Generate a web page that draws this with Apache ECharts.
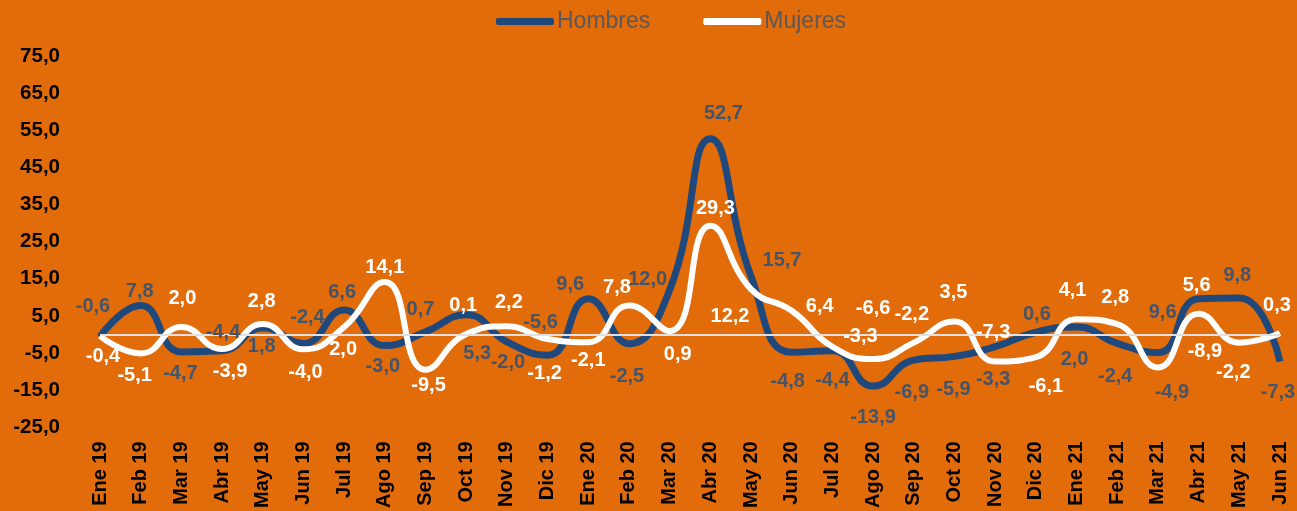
<!DOCTYPE html>
<html>
<head>
<meta charset="utf-8">
<script src="https://cdn.jsdelivr.net/npm/echarts@6/dist/echarts.min.js"></script>
<style>
    html, body { margin: 0; padding: 0; background: #E36C0A; }
    #main { width: 1297px; height: 511px; }
</style>
</head>
<body>
<div id="main"></div>
<script>
var meses = ['Ene 19', 'Feb 19', 'Mar 19', 'Abr 19', 'May 19', 'Jun 19', 'Jul 19', 'Ago 19', 'Sep 19', 'Oct 19',
    'Nov 19', 'Dic 19', 'Ene 20', 'Feb 20', 'Mar 20', 'Abr 20', 'May 20', 'Jun 20', 'Jul 20', 'Ago 20',
    'Sep 20', 'Oct 20', 'Nov 20', 'Dic 20', 'Ene 21', 'Feb 21', 'Mar 21', 'Abr 21', 'May 21', 'Jun 21'];

var hombres = [-0.6, 7.8, -4.7, -4.4, 1.8, -2.4, 6.6, -3.0, 0.7, 5.3,
    -2.0, -5.6, 9.6, -2.5, 12.0, 52.7, 15.7, -4.8, -4.4, -13.9,
    -6.9, -5.9, -3.3, 0.6, 2.0, -2.4, -4.9, 9.6, 9.8, -7.3];

var mujeres = [-0.4, -5.1, 2.0, -3.9, 2.8, -4.0, 2.0, 14.1, -9.5, 0.1,
    2.2, -1.2, -2.1, 7.8, 0.9, 29.3, 12.2, 6.4, -3.3, -6.6,
    -2.2, 3.5, -7.3, -6.1, 4.1, 2.8, -8.9, 5.6, -2.2, 0.3];

var yTicks = { min: -25, max: 75, step: 10 };

// label nudges (px from the point), the labels were hand placed in the original
var hombresLbl = [[-7, -30], [-1, -14], [-1, 22], [1, -18], [-1, 19], [4, -26], [-2, -17], [-2, 21], [-5, -22], [11, 39],
    [1, 21], [-7, -33], [-18, -14], [-2, 33], [-22, -10], [13, -25], [31, -16], [-4, 29], [0, 30], [0, 31],
    [-2, 32], [-1, 33], [-2, 33], [1, -18], [-2, 32], [-2, 33], [14, 40], [-36, 14], [-2, -23], [-2, 31]];
var mujeresLbl = [[3, 21], [-6, 22], [1, -29], [8, 23], [-1, -23], [2, 23], [-1, 22], [0, -15], [3, 16], [-3, -29],
    [2, -24], [-3, 35], [0, 18], [-12, -18], [8, 23], [5, -17], [-21, 27], [28, -4], [28, -10], [0, -50],
    [-2, -28], [-1, -29], [-2, -29], [10, 29], [-4, -29], [-2, -27], [47, -16], [-2, -28], [-6, 30], [-3, -28]];

var fmt = function (v) {
    return v.toFixed(1).replace('.', ',');
};

var labelData = function (vals, nudges) {
    return vals.map(function (v, i) {
        return { value: v, label: { offset: nudges[i] } };
    });
};

var lineSeries = function (name, vals, color, width, z) {
    return {
        name: name,
        type: 'line',
        smooth: 0.5,
        symbol: 'none',
        data: vals,
        z: z,
        lineStyle: { width: width, color: color },
        itemStyle: { color: color }
    };
};

var labelSeries = function (name, vals, nudges, color) {
    return {
        name: name,
        type: 'line',
        silent: true,
        symbol: 'circle',
        symbolSize: 1,
        showSymbol: true,
        data: labelData(vals, nudges),
        z: 10,
        lineStyle: { width: 0, color: 'rgba(0,0,0,0)' },
        itemStyle: { color: 'rgba(0,0,0,0)' },
        label: {
            show: true,
            position: 'inside',
            fontFamily: 'Liberation Sans',
            fontWeight: 'bold',
            fontSize: 20,
            color: color,
            formatter: function (p) { return fmt(p.value); }
        }
    };
};

var myChart = echarts.init(document.getElementById('main'));
var hSeries = lineSeries('Hombres', hombres, '#1F497D', 7, 3);
hSeries.markLine = {
    silent: true,
    symbol: 'none',
    label: { show: false },
    lineStyle: { color: '#E0E0E0', width: 2, type: 'solid' },
    data: [{ yAxis: 0 }]
};

var option = {
    backgroundColor: '#E36C0A',
    animation: false,
    legend: {
        top: 5,
        left: 491,
        itemWidth: 58,
        itemHeight: 7,
        itemGap: 53,
        icon: 'roundRect',
        textStyle: {
            fontFamily: 'Liberation Sans',
            fontSize: 23,
            color: '#595959',
            padding: [0, 0, 0, -2]
        },
        data: ['Hombres', 'Mujeres']
    },
    grid: {
        left: 100,
        right: 17,
        top: 56,
        bottom: 82
    },
    xAxis: {
        type: 'category',
        boundaryGap: false,
        data: meses,
        axisLine: { show: false },
        axisTick: { show: false },
        axisLabel: {
            rotate: 90,
            margin: 14,
            interval: 0,
            fontFamily: 'Liberation Sans',
            fontWeight: 'bold',
            fontSize: 20,
            color: '#000'
        }
    },
    yAxis: {
        type: 'value',
        min: yTicks.min,
        max: yTicks.max,
        interval: yTicks.step,
        splitLine: { show: false },
        axisLine: { show: false },
        axisTick: { show: false },
        axisLabel: {
            margin: 40,
            fontFamily: 'Liberation Sans',
            fontWeight: 'bold',
            fontSize: 20.5,
            color: '#000',
            formatter: fmt
        }
    },
    series: [
        hSeries,
        lineSeries('Mujeres', mujeres, '#FFFFFF', 6, 4),
        labelSeries('Hombres etiquetas', hombres, hombresLbl, '#44546A'),
        labelSeries('Mujeres etiquetas', mujeres, mujeresLbl, '#FFFFFF')
    ]
};
myChart.setOption(option);
</script>
</body>
</html>
